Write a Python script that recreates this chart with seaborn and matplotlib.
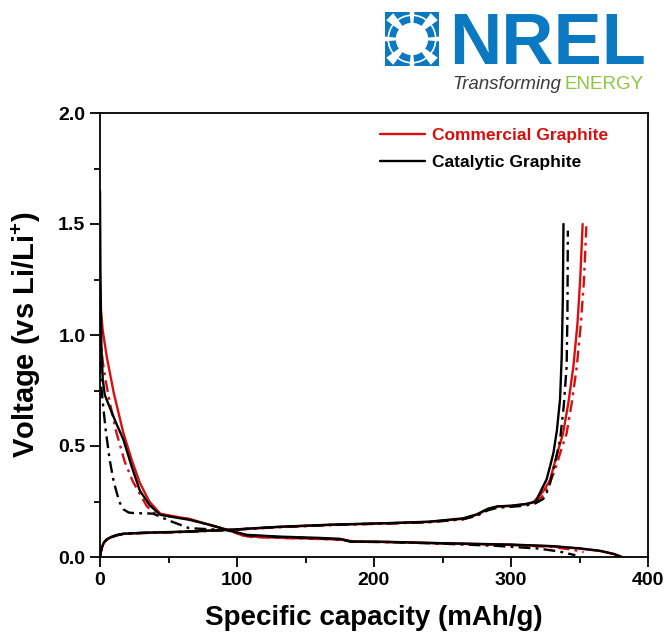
import numpy as np
import pandas as pd
import matplotlib
matplotlib.use("Agg")
import matplotlib.pyplot as plt
from matplotlib.lines import Line2D
from matplotlib.patches import Rectangle, Circle, Wedge, Polygon
import seaborn as sns

# ---------------- data: voltage profiles (capacity in mAh/g, voltage in V) ----------------
# Commercial graphite, cycle 1 (solid) and cycle 2 (dash-dot)
comm_c1_dis_x = [0, 0.5, 2, 5, 10, 17, 23, 29, 36, 44, 55, 65, 80, 93, 107, 130, 160, 178, 185,
                 210, 250, 300, 330, 350, 365, 375, 381]
comm_c1_dis_v = [1.17, 1.12, 1.02, 0.90, 0.74, 0.56, 0.44, 0.335, 0.25, 0.195, 0.182, 0.172, 0.145,
                 0.122, 0.093, 0.087, 0.082, 0.078, 0.069, 0.068, 0.062, 0.055, 0.048, 0.038, 0.027,
                 0.013, 0.0]
comm_c1_chg_x = [0, 0.5, 1.5, 3, 5, 8, 12, 17, 30, 60, 95, 130, 170, 212, 240, 265, 275, 283, 290,
                 300, 311, 316, 320, 324, 328.5, 333, 338, 342, 345.5, 348.5, 350.5, 352.3]
comm_c1_chg_v = [0.0, 0.02, 0.045, 0.065, 0.078, 0.088, 0.097, 0.104, 0.108, 0.113, 0.122, 0.135,
                 0.145, 0.152, 0.158, 0.172, 0.19, 0.215, 0.227, 0.23, 0.238, 0.245, 0.27, 0.30,
                 0.347, 0.45, 0.557, 0.70, 0.857, 1.05, 1.25, 1.5]

comm_c2_dis_x = [0, 0.5, 2, 4, 7, 12, 18, 24, 29, 34, 39, 50, 65, 80, 93, 107, 130, 160, 178, 185,
                 210, 250, 300, 330, 345, 353]
comm_c2_dis_v = [1.02, 0.98, 0.88, 0.80, 0.70, 0.56, 0.43, 0.34, 0.285, 0.23, 0.20, 0.185, 0.17,
                 0.145, 0.122, 0.091, 0.086, 0.081, 0.077, 0.069, 0.067, 0.061, 0.054, 0.045,
                 0.033, 0.022]
comm_c2_chg_x = [0, 0.5, 1.5, 3, 5, 8, 12, 17, 30, 60, 95, 130, 170, 212, 240, 265, 275, 283, 290,
                 300, 311, 318, 324, 328, 332, 336, 340.6, 344.5, 348, 351, 353.3, 355]
comm_c2_chg_v = [0.0, 0.02, 0.045, 0.065, 0.078, 0.088, 0.097, 0.104, 0.108, 0.113, 0.122, 0.134,
                 0.144, 0.151, 0.157, 0.170, 0.188, 0.213, 0.225, 0.229, 0.236, 0.245, 0.28, 0.33,
                 0.39, 0.47, 0.557, 0.70, 0.857, 1.05, 1.25, 1.49]

# Catalytic graphite, cycle 1 (solid) and cycle 2 (dash-dot)
cat_c1_dis_x = [0, 0.3, 1, 2, 3.5, 8, 12, 17, 23, 29, 36, 44, 55, 65, 80, 93, 107, 130, 160, 175,
                183, 210, 250, 300, 330, 350, 365, 375, 381]
cat_c1_dis_v = [1.65, 1.3, 0.95, 0.80, 0.73, 0.66, 0.60, 0.53, 0.41, 0.30, 0.235, 0.19, 0.178,
                0.168, 0.145, 0.122, 0.100, 0.092, 0.086, 0.082, 0.070, 0.068, 0.062, 0.056, 0.049,
                0.039, 0.028, 0.014, 0.0]
cat_c1_chg_x = [0, 0.5, 1.5, 3, 5, 8, 12, 17, 30, 60, 95, 130, 170, 212, 240, 265, 275, 283, 290,
                300, 311, 315, 318, 322, 326, 329, 331, 333.5, 335.8, 337, 337.8, 338.3]
cat_c1_chg_v = [0.0, 0.022, 0.047, 0.067, 0.080, 0.090, 0.099, 0.105, 0.109, 0.114, 0.123, 0.136,
                0.146, 0.153, 0.159, 0.174, 0.192, 0.217, 0.228, 0.231, 0.239, 0.245, 0.25, 0.30,
                0.35, 0.42, 0.47, 0.57, 0.71, 0.90, 1.15, 1.5]

cat_c2_dis_x = [0, 0.5, 1.5, 2.5, 4, 7, 10, 14, 17, 21, 27, 33, 39, 50, 65, 80, 92, 107, 130, 160,
                175, 183, 210, 250, 290, 320, 335, 347]
cat_c2_dis_v = [0.88, 0.80, 0.73, 0.67, 0.58, 0.44, 0.34, 0.25, 0.215, 0.20, 0.197, 0.197, 0.195,
                0.165, 0.13, 0.125, 0.122, 0.098, 0.090, 0.084, 0.080, 0.069, 0.067, 0.060, 0.050,
                0.038, 0.025, 0.008]
cat_c2_chg_x = [0, 0.5, 1.5, 3, 5, 8, 12, 17, 30, 60, 95, 130, 170, 212, 240, 265, 275, 283, 290,
                300, 311, 318, 323.6, 326, 328.5, 332, 335.8, 338.5, 340.6, 341.2, 341.5]
cat_c2_chg_v = [0.0, 0.021, 0.046, 0.066, 0.079, 0.089, 0.098, 0.104, 0.108, 0.113, 0.122, 0.135,
                0.145, 0.152, 0.157, 0.170, 0.186, 0.21, 0.222, 0.226, 0.232, 0.242, 0.262, 0.29,
                0.332, 0.42, 0.527, 0.68, 0.857, 1.1, 1.47]

materials = ["Commercial Graphite", "Catalytic Graphite"]
x_ticks = [0, 100, 200, 300, 400]
y_ticks = [0.0, 0.5, 1.0, 1.5, 2.0]

# ---------------- long-form table ----------------
curves = [
    ("Commercial Graphite", "cycle 1", "discharge", comm_c1_dis_x, comm_c1_dis_v),
    ("Commercial Graphite", "cycle 1", "charge", comm_c1_chg_x, comm_c1_chg_v),
    ("Commercial Graphite", "cycle 2", "discharge", comm_c2_dis_x, comm_c2_dis_v),
    ("Commercial Graphite", "cycle 2", "charge", comm_c2_chg_x, comm_c2_chg_v),
    ("Catalytic Graphite", "cycle 1", "discharge", cat_c1_dis_x, cat_c1_dis_v),
    ("Catalytic Graphite", "cycle 1", "charge", cat_c1_chg_x, cat_c1_chg_v),
    ("Catalytic Graphite", "cycle 2", "discharge", cat_c2_dis_x, cat_c2_dis_v),
    ("Catalytic Graphite", "cycle 2", "charge", cat_c2_chg_x, cat_c2_chg_v),
]
frames = []
for mat, cyc, step, xs, vs in curves:
    frames.append(pd.DataFrame({
        "capacity": xs, "voltage": vs, "material": mat, "cycle": cyc,
        "segment": f"{mat}|{cyc}|{step}",
    }))
df = pd.concat(frames, ignore_index=True)

# ---------------- style ----------------
sns.set_style("ticks")
plt.rcParams["font.family"] = ["Liberation Sans", "DejaVu Sans"]
plt.rcParams["font.weight"] = "bold"
plt.rcParams["text.color"] = "black"
plt.rcParams["axes.labelcolor"] = "black"
plt.rcParams["xtick.color"] = "black"
plt.rcParams["ytick.color"] = "black"
plt.rcParams["mathtext.fontset"] = "custom"
plt.rcParams["mathtext.rm"] = "Liberation Sans:bold"
plt.rcParams["mathtext.bf"] = "Liberation Sans:bold"
plt.rcParams["mathtext.default"] = "rm"

RED = "#D90F0F"
BLACK = "#000000"
palette = {"Commercial Graphite": RED, "Catalytic Graphite": BLACK}
dashes = {"cycle 1": "", "cycle 2": (5, 2.2, 1.2, 2.2)}

W, H = 666, 635
fig = plt.figure(figsize=(W / 100, H / 100), dpi=100)
ax = fig.add_axes([100 / W, 1 - 557 / H, 548 / W, 444 / H])

sns.lineplot(data=df, x="capacity", y="voltage", hue="material", style="cycle",
             units="segment", estimator=None, sort=False, palette=palette,
             dashes=dashes, linewidth=1.7, legend=False, ax=ax)

ax.set_xlim(0, 400)
ax.set_ylim(0, 2.0)
ax.set_xticks(x_ticks)
ax.set_yticks(y_ticks)
ax.set_xticklabels([f"{t:d}" for t in x_ticks])
ax.set_yticklabels([f"{t:.1f}" for t in y_ticks])
ax.xaxis.set_minor_locator(matplotlib.ticker.MultipleLocator(50))
ax.yaxis.set_minor_locator(matplotlib.ticker.MultipleLocator(0.25))
ax.tick_params(which="major", direction="out", length=7, width=1.3, labelsize=14,
               top=False, right=False, colors="black")
ax.tick_params(which="minor", direction="out", length=4, width=1.3, top=False, right=False,
               colors="black")
for lbl in ax.get_xticklabels() + ax.get_yticklabels():
    lbl.set_fontweight("bold")
for sp in ax.spines.values():
    sp.set_visible(True)
    sp.set_linewidth(1.3)
    sp.set_color("black")

ax.set_xlabel("Specific capacity (mAh/g)", fontsize=20, fontweight="bold", labelpad=12)
ax.set_ylabel("Voltage (vs Li/Li$^{+}$)", fontsize=21, fontweight="bold", labelpad=11)

handles = [Line2D([], [], color=palette[m], lw=1.7) for m in materials]
leg = ax.legend(handles, materials, loc="upper left", bbox_to_anchor=(0.511, 0.967),
                frameon=False, borderaxespad=0, borderpad=0, handlelength=2.6,
                handletextpad=0.4, labelspacing=0.68,
                prop={"size": 12.5, "weight": "bold"})
for txt, m in zip(leg.get_texts(), materials):
    txt.set_color(palette[m])

# ---------------- NREL logo ----------------
BLUE = "#0A79C2"
GREEN = "#8DC63F"
logo = fig.add_axes([385 / W, 1 - 66 / H, 54 / W, 54 / H])
logo.set_xlim(0, 1)
logo.set_ylim(0, 1)
logo.set_aspect("equal")
logo.axis("off")
logo.add_patch(Rectangle((0, 0), 1, 1, color=BLUE, lw=0))
logo.add_patch(Circle((0.5, 0.5), 0.44, facecolor="none", edgecolor="white", lw=1.2))
for ang in range(0, 360, 45):
    width = 9 if ang % 90 == 45 else 5
    logo.add_patch(Wedge((0.5, 0.5), 0.75, ang - width, ang + width, color="white", lw=0))
for cx, cy in [(0, 0), (1, 0), (0, 1), (1, 1)]:
    logo.add_patch(Polygon([(cx, cy), (cx + (0.5 - cx) * 0.35, cy),
                            (cx, cy + (0.5 - cy) * 0.35)], color=BLUE, lw=0))
logo.add_patch(Circle((0.5, 0.5), 0.3, color="white", lw=0))

fig.text(449 / W, 1 - 64 / H, "NREL", color=BLUE, fontsize=52, fontweight="bold",
         ha="left", va="baseline", family="Liberation Sans")
t1 = fig.text(452 / W, 1 - 89 / H, "Transforming", color="#3C3C3C", fontsize=13.5,
              fontstyle="italic", fontweight="normal", ha="left", va="baseline",
              family="Liberation Sans")
fig.canvas.draw()
bb = t1.get_window_extent(renderer=fig.canvas.get_renderer())
fig.text((bb.x1 + 4) / W, 1 - 89 / H, "ENERGY", color=GREEN, fontsize=13.5,
         fontweight="normal", ha="left", va="baseline", family="Liberation Sans")

fig.savefig("out.png", dpi=100, facecolor="white")
